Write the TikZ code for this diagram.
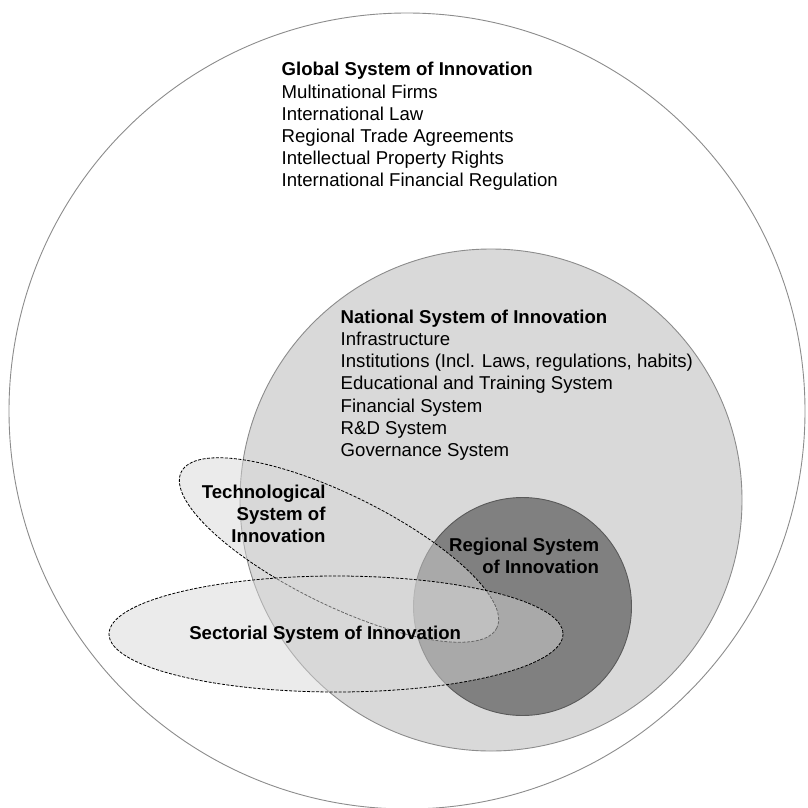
\documentclass[tikz,border=0pt]{standalone}
\usepackage{fontspec}
\setmainfont{Liberation Sans}
\definecolor{ringgray}{HTML}{8C8C8C}
\definecolor{natfill}{HTML}{D9D9D9}
\definecolor{regfill}{HTML}{808080}
\definecolor{regline}{HTML}{5A5A5A}
\definecolor{ellfill}{HTML}{D7D7D7}
\begin{document}
\begin{tikzpicture}[x=1pt,y=-1pt,
  txt/.style={inner sep=0pt, font=\fontsize{18.6}{22.2}\selectfont},
  ttl/.style={inner sep=0pt, font=\fontsize{18.6}{22.2}\selectfont\bfseries},
  ring/.style={draw=ringgray, line width=0.9pt},
  dashell/.style={draw=black, line width=0.8pt, dash pattern=on 3pt off 1.5pt, fill=ellfill, fill opacity=0.48}]
\useasboundingbox (0,0) rectangle (807,808);
% circles
\draw[ring, fill=white] (407,411) circle [radius=398];
\draw[ring, fill=natfill] (491,500) circle [radius=251];
\draw[draw=regline, line width=0.9pt, fill=regfill] (522.5,606.5) circle [radius=109];
% ellipses
\draw[dashell, rotate around={-26.3:(339,550)}] (339,550) ellipse [x radius=176, y radius=55];
\draw[dashell] (336,634) ellipse [x radius=227, y radius=58];
% global text
\node[ttl, anchor=base west] (gl0) at (281.5,75.8) {Global System of Innovation};
\foreach \t [count=\i] in {Multinational Firms, International Law, Regional Trade Agreements, Intellectual Property Rights, International Financial Regulation}
  \node[txt, anchor=base west] (gl\i) at (281.5,75.8+22.2*\i) {\t};
% national text
\node[ttl, anchor=base west] (na0) at (340.5,323.3) {National System of Innovation};
\foreach \t [count=\i] in {Infrastructure, {Institutions (Incl. Laws, regulations, habits)}, Educational and Training System, Financial System, R\&D System, Governance System}
  \node[txt, anchor=base west] (na\i) at (340.5,323.3+22.2*\i) {\t};
% technological
\node[ttl, anchor=base east] (te1) at (325.7,498.3) {Technological};
\node[ttl, anchor=base east] (te2) at (325.7,520.5) {System of};
\node[ttl, anchor=base east] (te3) at (325.7,542.7) {Innovation};
% regional
\node[ttl, anchor=base east] (re1) at (599.3,551) {Regional System};
\node[ttl, anchor=base east] (re2) at (599.3,573.2) {of Innovation};
% sectorial
\node[ttl, anchor=base] (se1) at (325.2,639.3) {Sectorial System of Innovation};
\end{tikzpicture}
\end{document}
